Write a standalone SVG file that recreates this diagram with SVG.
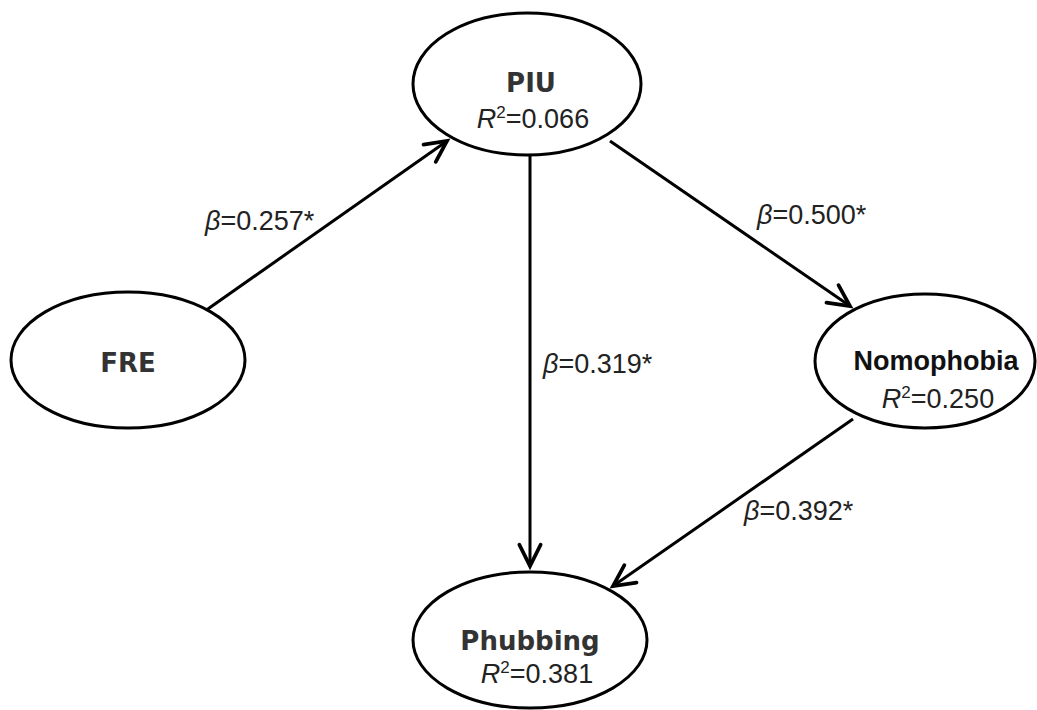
<svg xmlns="http://www.w3.org/2000/svg" width="1037" height="710" viewBox="0 0 1037 710">
  <defs>
    <marker id="arrow" markerUnits="userSpaceOnUse" markerWidth="30" markerHeight="30" viewBox="-20 -12 24 24" refX="0" refY="0" orient="auto">
      <path d="M-17,-8.5 L0,0 L-17,8.5" fill="none" stroke="#000" stroke-width="3" stroke-linejoin="miter" stroke-linecap="round"/>
    </marker>
    <style>
      .node { fill: #fff; stroke: #000; stroke-width: 3; }
      .edge { stroke: #000; stroke-width: 3; fill: none; marker-end: url(#arrow); }
      .title { font-family: "DejaVu Sans", Verdana, sans-serif; font-weight: bold; font-size: 26px; fill: #333; text-anchor: middle; }
      .title2 { font-family: "Liberation Sans", Arial, sans-serif; font-weight: bold; font-size: 27px; fill: #111; text-anchor: middle; }
      .stat { font-family: "Liberation Sans", Arial, sans-serif; font-size: 27px; fill: #222; text-anchor: middle; }
      .coef { font-family: "Liberation Sans", Arial, sans-serif; font-size: 27px; fill: #222; }
      .it { font-style: italic; }
      .sup { font-size: 17px; }
    </style>
  </defs>
  <rect width="1037" height="710" fill="#fff"/>

  <!-- paths between constructs -->
  <g id="connectors">
    <line class="edge" x1="205" y1="311" x2="447" y2="141"/>
    <line class="edge" x1="610" y1="141" x2="850" y2="306"/>
    <line class="edge" x1="530" y1="155" x2="530" y2="566"/>
    <line class="edge" x1="853" y1="419" x2="613" y2="586"/>
    <text class="coef" x="205" y="230"><tspan class="it">β</tspan>=0.257*</text>
    <text class="coef" x="757" y="224"><tspan class="it">β</tspan>=0.500*</text>
    <text class="coef" x="543" y="373"><tspan class="it">β</tspan>=0.319*</text>
    <text class="coef" x="744" y="520"><tspan class="it">β</tspan>=0.392*</text>
  </g>

  <g id="node-piu">
    <ellipse class="node" cx="527" cy="84" rx="114" ry="71"/>
    <text class="title" x="531" y="92">PIU</text>
    <text class="stat" x="533" y="128"><tspan class="it">R</tspan><tspan class="sup" dy="-10">2</tspan><tspan dy="10">=0.066</tspan></text>
  </g>

  <g id="node-fre">
    <ellipse class="node" cx="128" cy="360" rx="117" ry="68"/>
    <text class="title" x="128" y="372">FRE</text>
  </g>

  <g id="node-nomophobia">
    <ellipse class="node" cx="925" cy="361" rx="110" ry="67"/>
    <text class="title2" x="936" y="370">Nomophobia</text>
    <text class="stat" x="938" y="408"><tspan class="it">R</tspan><tspan class="sup" dy="-10">2</tspan><tspan dy="10">=0.250</tspan></text>
  </g>

  <g id="node-phubbing">
    <ellipse class="node" cx="530" cy="640" rx="117" ry="68"/>
    <text class="title" x="530" y="650">Phubbing</text>
    <text class="stat" x="537" y="683"><tspan class="it">R</tspan><tspan class="sup" dy="-10">2</tspan><tspan dy="10">=0.381</tspan></text>
  </g>
</svg>
